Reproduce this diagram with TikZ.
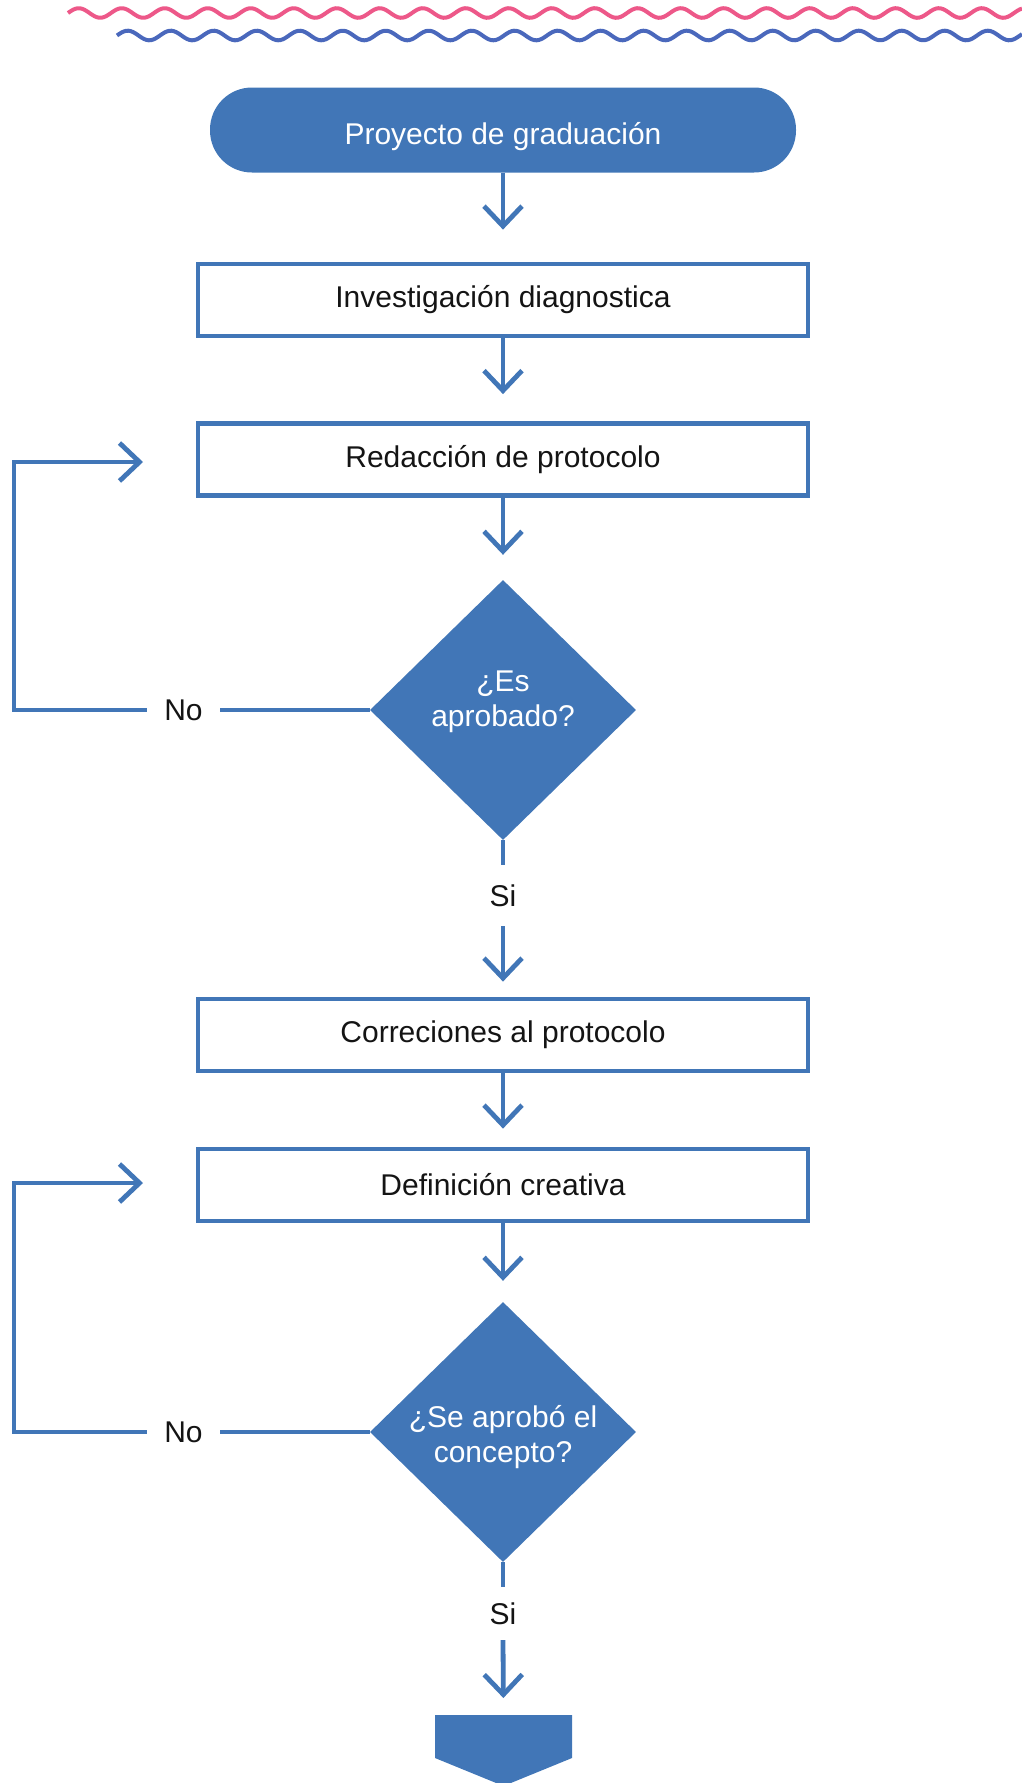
\documentclass[tikz,border=0pt]{standalone}
\usepackage{fontspec}
\setmainfont{Liberation Sans}
\usetikzlibrary{arrows.meta,shapes.geometric}
\definecolor{mainblue}{RGB}{65,118,183}
\definecolor{wavepink}{RGB}{237,88,137}
\definecolor{waveblue}{RGB}{74,104,188}
\definecolor{txt}{RGB}{20,20,20}
\begin{document}
\begin{tikzpicture}[x=1pt,y=-1pt,
  every node/.style={font=\fontsize{30}{35}\selectfont},
  term/.style={rectangle, rounded corners=42pt, fill=mainblue, text=white,
    minimum width=586pt, minimum height=85pt, inner sep=0pt,
    text height=28pt, text depth=0pt},
  procbox/.style={rectangle, draw=mainblue, line width=4.8pt, fill=white, text=txt,
    minimum width=610pt, minimum height=72pt, inner sep=0pt},
  decbox/.style={diamond, fill=mainblue,
    minimum width=266pt, minimum height=260pt, inner sep=0pt},
  dectext/.style={text=white, align=center, inner sep=0pt},
  lbl/.style={text=txt, inner sep=0pt},
  conn/.style={draw=mainblue, line width=4.8pt},
  arr/.style={conn, -{Straight Barb[length=20pt,width=38pt]}},
  wave/.style={line width=4pt, smooth, samples=400}
]
\useasboundingbox (0,0) rectangle (1022,1783);

% decorative waves
\draw[wave, wavepink, domain=68:1022] plot (\x, {13-4.8*sin(8.372*(\x-68))});
\draw[wave, waveblue, domain=117:1022] plot (\x, {35.5-4.8*sin(8.372*(\x-117))});

% nodes
\node[term] (start) at (503,130) {Proyecto de graduación};
\node[procbox] (b1) at (503,300) {Investigación diagnostica};
\node[procbox] (b2) at (503,459.5) {Redacción de protocolo};
\node[decbox] (d1) at (503,710) {};
\node[dectext] (d1t) at (503,702) {¿Es\\aprobado?};
\node[lbl, minimum height=61pt] (si1) at (503,895.5) {Si};
\node[procbox] (b3) at (503,1035) {Correciones al protocolo};
\node[procbox] (b4) at (503,1185) {Definición creativa};
\node[decbox] (d2) at (503,1432) {};
\node[dectext] (d2t) at (503,1437) {¿Se aprobó el\\concepto?};
\node[lbl, minimum height=53pt] (si2) at (503,1613.5) {Si};
\node[lbl, minimum width=73pt] (no1) at (183.5,710) {No};
\node[lbl, minimum width=73pt] (no2) at (183.5,1432) {No};

% end connector shape
\fill[mainblue] (435,1715) -- (572,1715) -- (572,1758) -- (503.5,1786) -- (435,1758) -- cycle;
\coordinate (endtop) at (503.5,1715);

\coordinate (k1) at (14,462);
\coordinate (t1) at (143,462);
\coordinate (k2) at (14,1183);
\coordinate (t2) at (143,1183);

% connectors
\draw[arr, shorten >=32pt] (start.south) -- (b1.north);
\draw[arr, shorten >=27pt] (b1.south) -- (b2.north);
\draw[arr, shorten >=25pt] (b2.south) -- (d1.north);
\draw[conn] (d1.south) -- (si1.north);
\draw[arr, shorten >=15pt] (si1.south) -- (b3.north);
\draw[arr, shorten >=18pt] (b3.south) -- (b4.north);
\draw[arr, shorten >=21pt] (b4.south) -- (d2.north);
\draw[conn] (d2.south) -- (si2.north);
\draw[arr, shorten >=17pt] (si2.south) -- (endtop);

\draw[conn] (d1.west) -- (no1.east);
\draw[arr] (no1.west) -| (k1) -- (t1);
\draw[conn] (d2.west) -- (no2.east);
\draw[arr] (no2.west) -| (k2) -- (t2);
\end{tikzpicture}
\end{document}
